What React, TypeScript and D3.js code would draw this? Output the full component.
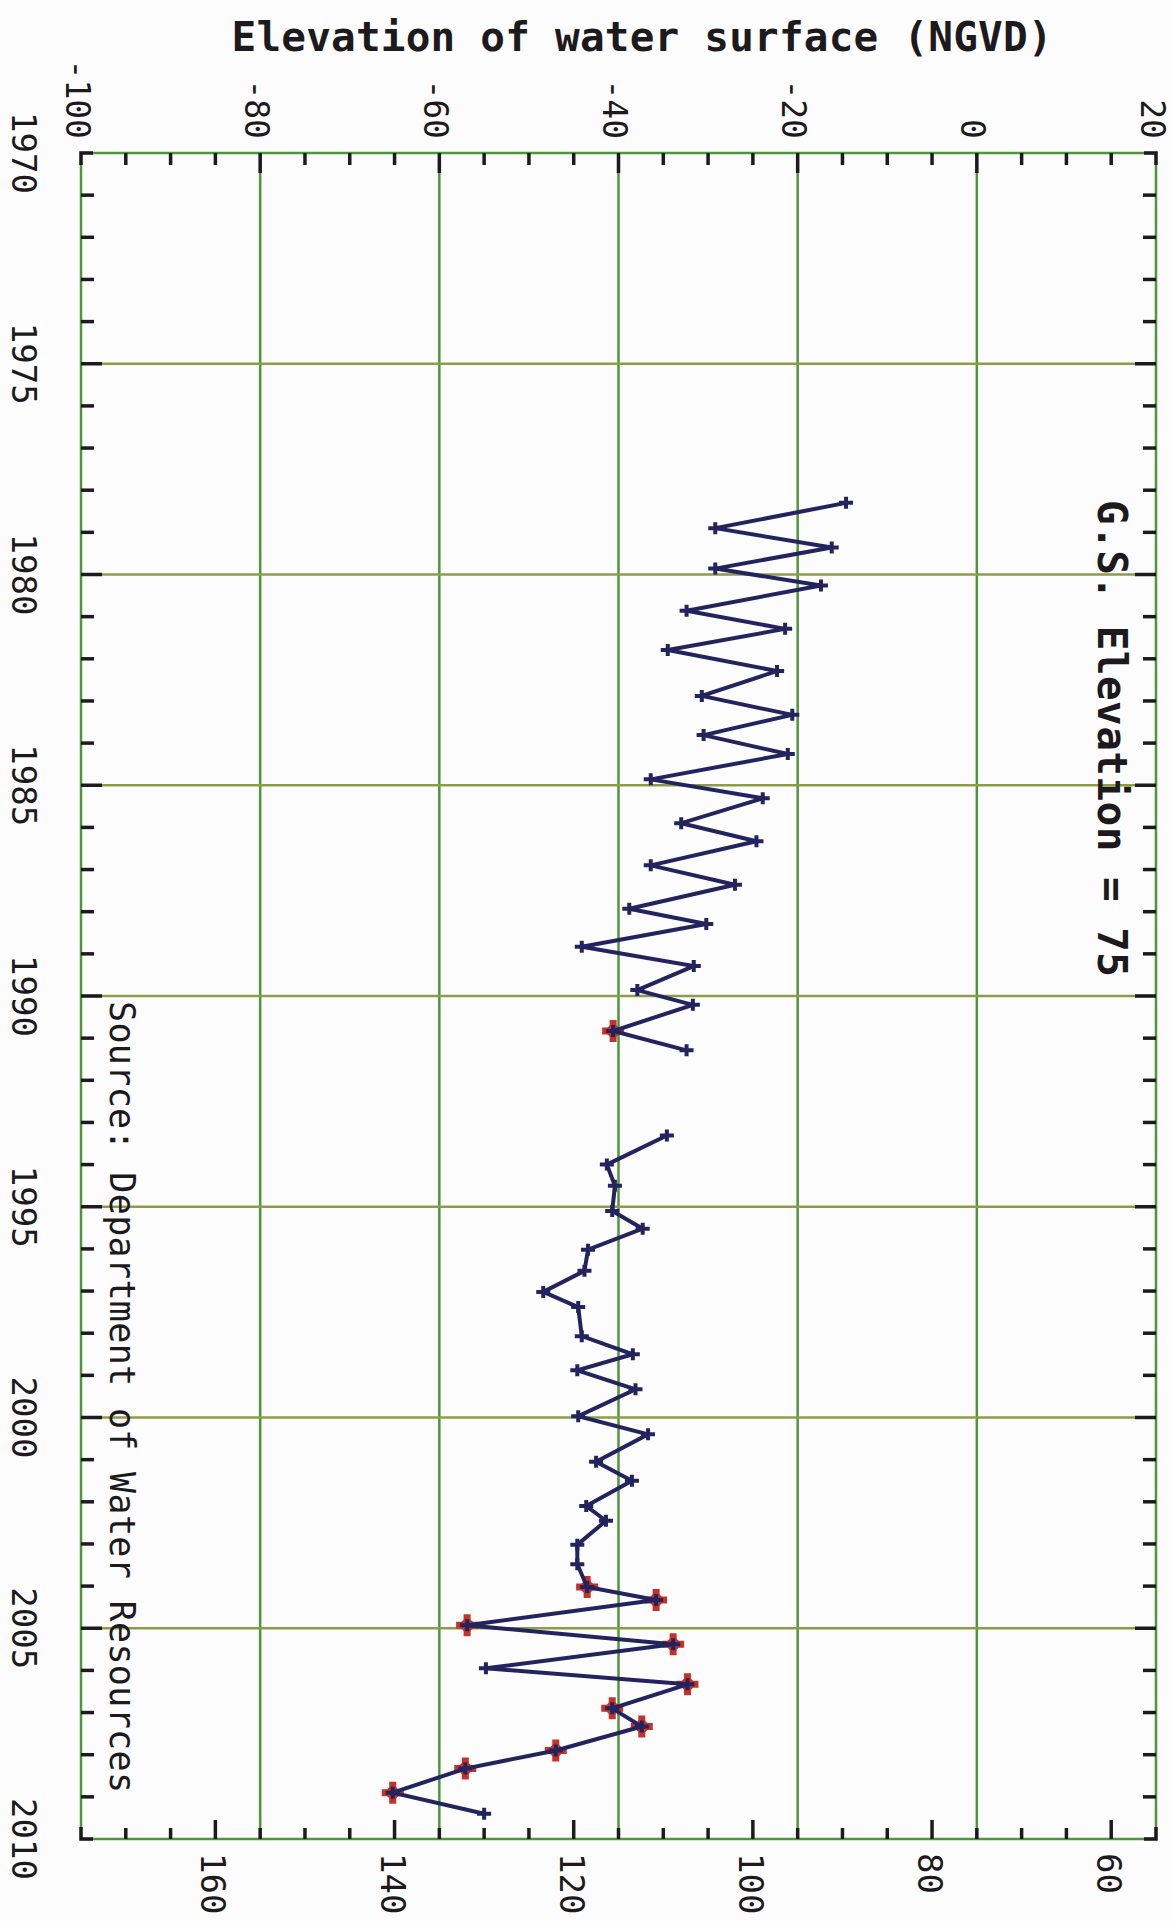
import * as d3 from 'd3'

const W = 1172, H = 1921
const PLOT = { left: 81, right: 1156, top: 153, bottom: 1839 }

// elevation of water surface (ft, NGVD) — top axis
const ELEV_TICKS = [-100, -80, -60, -40, -20, 0, 20]
// depth below ground surface (ft) — bottom axis, G.S. elevation = 75
const GS_ELEV = 75
const DEPTH_TICKS = [160, 140, 120, 100, 80, 60]
const YEAR_TICKS = [1970, 1975, 1980, 1985, 1990, 1995, 2000, 2005, 2010]

// 1978 – 1991 record
const EARLY_YEARS = [
  1978.3, 1978.9, 1979.36, 1979.86, 1980.26, 1980.86, 1981.29, 1981.79, 1982.29,
  1982.88, 1983.33, 1983.81, 1984.26, 1984.86, 1985.31, 1985.9, 1986.33, 1986.9,
  1987.36, 1987.93, 1988.29, 1988.83, 1989.29, 1989.86, 1990.21, 1990.83, 1991.29,
]
const EARLY_ELEV = [
  -14.6, -29.2, -16.2, -29.2, -17.4, -32.4, -21.4, -34.5, -22.3,
  -30.7, -20.6, -30.5, -21.1, -36.4, -23.9, -33.0, -24.6, -36.4,
  -27.0, -38.8, -30.2, -44.1, -31.6, -37.9, -31.7, -40.6, -32.4,
]
const EARLY_FLAG = [
  0, 0, 0, 0, 0, 0, 0, 0, 0,
  0, 0, 0, 0, 0, 0, 0, 0, 0,
  0, 0, 0, 0, 0, 0, 0, 1, 0,
]

// 1993 – 2009 record
const LATE_YEARS = [
  1993.31, 1994.0, 1994.5, 1995.1, 1995.52, 1996.02, 1996.52, 1997.02, 1997.38,
  1998.07, 1998.5, 1998.88, 1999.33, 1999.97, 2000.4, 2001.05, 2001.5, 2002.1,
  2002.45, 2003.02, 2003.48, 2004.02, 2004.33, 2004.93, 2005.38, 2005.95, 2006.33,
  2006.9, 2007.33, 2007.9, 2008.33, 2008.9, 2009.4,
]
const LATE_ELEV = [
  -34.6, -41.3, -40.4, -40.7, -37.3, -43.4, -43.8, -48.4, -44.5,
  -44.1, -38.4, -44.6, -38.1, -44.5, -36.7, -42.5, -38.5, -43.6,
  -41.4, -44.6, -44.6, -43.5, -35.8, -56.9, -33.9, -54.8, -32.3,
  -40.7, -37.4, -47.0, -57.1, -65.2, -55.0,
]
const LATE_FLAG = [
  0, 0, 0, 0, 0, 0, 0, 0, 0,
  0, 0, 0, 0, 0, 0, 0, 0, 0,
  0, 0, 0, 1, 1, 1, 1, 0, 1,
  1, 1, 1, 1, 1, 0,
]

const FONT = '"DejaVu Sans Mono", "Liberation Mono", monospace'
const GRID_V = '#4f963a'
const GRID_H = '#8e9c48'
const INK = '#1c1a1c'
const LINE = '#23245e'
const RED = '#c4322a'

type Pt = { year: number; elev: number; red: boolean }

const toPts = (ys: number[], es: number[], fs: number[]): Pt[] =>
  ys.map((y, i) => ({ year: y, elev: es[i], red: fs[i] === 1 }))

export default function App() {
  const x = d3.scaleLinear().domain([-100, 20]).range([PLOT.left, PLOT.right])
  const xd = d3.scaleLinear().domain([GS_ELEV + 100, GS_ELEV - 20]).range([PLOT.left, PLOT.right])
  const y = d3.scaleLinear().domain([1970, 2010]).range([PLOT.top, PLOT.bottom])

  const segments = [toPts(EARLY_YEARS, EARLY_ELEV, EARLY_FLAG), toPts(LATE_YEARS, LATE_ELEV, LATE_FLAG)]
  const line = d3.line<Pt>().x(d => x(d.elev)).y(d => y(d.year))

  const elevMinor = d3.range(-95, 20, 5)
  const depthMinor = d3.range(170, 55, -5)
  const yearMinor = d3.range(1971, 2010, 1)

  const rot = (px: number, py: number) => `rotate(90, ${px}, ${py})`

  return (
    <svg width={W} height={H} viewBox={`0 0 ${W} ${H}`}
      style={{ position: 'absolute', left: 0, top: 0, display: 'block', background: '#fdfcfd' }}>
      <rect x={0} y={0} width={W} height={H} fill="#fdfcfd" />

      {/* title */}
      <text x={642} y={51} textAnchor="middle" fontFamily={FONT} fontWeight="bold" fontSize={41}
        textLength={821} lengthAdjust="spacing" fill={INK}>
        Elevation of water surface (NGVD)
      </text>

      {/* grid */}
      {ELEV_TICKS.slice(1, -1).map(v => (
        <line key={`gv${v}`} x1={x(v)} x2={x(v)} y1={PLOT.top} y2={PLOT.bottom} stroke={GRID_V} strokeWidth={2.5} />
      ))}
      {YEAR_TICKS.slice(1, -1).map(v => (
        <line key={`gh${v}`} x1={PLOT.left} x2={PLOT.right} y1={y(v)} y2={y(v)} stroke={GRID_H} strokeWidth={2.5} />
      ))}
      <rect x={PLOT.left} y={PLOT.top} width={PLOT.right - PLOT.left} height={PLOT.bottom - PLOT.top}
        fill="none" stroke={GRID_V} strokeWidth={2.5} />

      {/* top ticks (elevation) */}
      {elevMinor.map(v => {
        const major = v % 20 === 0
        return <line key={`te${v}`} x1={x(v)} x2={x(v)} y1={PLOT.top} y2={PLOT.top + (major ? 20 : 12)}
          stroke={INK} strokeWidth={3.5} />
      })}
      {/* bottom ticks (depth) */}
      {depthMinor.map(v => {
        const major = v % 20 === 0
        return <line key={`td${v}`} x1={xd(v)} x2={xd(v)} y1={PLOT.bottom} y2={PLOT.bottom - (major ? 19 : 11)}
          stroke={INK} strokeWidth={3.5} />
      })}
      {/* left / right ticks (years) */}
      {yearMinor.map(v => {
        const len = v % 5 === 0 ? 21 : 13
        return (
          <g key={`ty${v}`}>
            <line x1={PLOT.left} x2={PLOT.left + len} y1={y(v)} y2={y(v)} stroke={INK} strokeWidth={3.5} />
            <line x1={PLOT.right} x2={PLOT.right - len} y1={y(v)} y2={y(v)} stroke={INK} strokeWidth={3.5} />
          </g>
        )
      })}
      {/* corner marks */}
      <path d={`M${PLOT.left},${PLOT.top + 12}V${PLOT.top}H${PLOT.left + 12}`} fill="none" stroke={INK} strokeWidth={3.5} />
      <path d={`M${PLOT.right - 12},${PLOT.top}H${PLOT.right}V${PLOT.top + 12}`} fill="none" stroke={INK} strokeWidth={3.5} />
      <path d={`M${PLOT.left},${PLOT.bottom - 12}V${PLOT.bottom}H${PLOT.left + 12}`} fill="none" stroke={INK} strokeWidth={3.5} />
      <path d={`M${PLOT.right - 12},${PLOT.bottom}H${PLOT.right}V${PLOT.bottom - 12}`} fill="none" stroke={INK} strokeWidth={3.5} />

      {/* top labels */}
      {ELEV_TICKS.map(v => (
        <text key={`le${v}`} x={x(v) - 4} y={139} transform={rot(x(v) - 4, 139)} textAnchor="end"
          dominantBaseline="central" fontFamily={FONT} fontSize={33} fill={INK}>{v}</text>
      ))}
      {/* bottom labels */}
      {DEPTH_TICKS.map(v => (
        <text key={`ld${v}`} x={xd(v) - 2} y={1853} transform={rot(xd(v) - 2, 1853)} textAnchor="start"
          dominantBaseline="central" fontFamily={FONT} fontSize={34} fill={INK}>{v}</text>
      ))}
      {/* year labels */}
      {YEAR_TICKS.map(v => (
        <text key={`ly${v}`} x={24} y={y(v)} transform={rot(24, y(v))} textAnchor="middle"
          dominantBaseline="central" fontFamily={FONT} fontSize={34} fill={INK}>{v}</text>
      ))}

      {/* annotations */}
      <text x={1112} y={500} transform={rot(1112, 500)} textAnchor="start" dominantBaseline="central"
        fontFamily={FONT} fontWeight="bold" fontSize={41} textLength={477} lengthAdjust="spacing" fill={INK}>
        G.S. Elevation = 75
      </text>
      <text x={122} y={1001} transform={rot(122, 1001)} textAnchor="start" dominantBaseline="central"
        fontFamily={FONT} fontSize={35} textLength={792} lengthAdjust="spacing" fill={INK}>
        Source: Department of Water Resources
      </text>

      {/* red markers */}
      {segments.flat().filter(d => d.red).map((d, i) => {
        const cx = x(d.elev), cy = y(d.year)
        return (
          <g key={`r${i}`} transform={`translate(${cx},${cy})`}>
            <path d="M-11,0H11M0,-11V11" stroke={RED} strokeWidth={7} />
            <path d="M-9,0L0,-9L9,0L0,9Z" fill={RED} />
          </g>
        )
      })}

      {/* series */}
      {segments.map((seg, i) => (
        <path key={`s${i}`} d={line(seg) ?? ''} fill="none" stroke={LINE} strokeWidth={4} strokeLinejoin="miter" />
      ))}
      {segments.flat().map((d, i) => {
        const cx = x(d.elev), cy = y(d.year)
        return <path key={`b${i}`} d={`M${cx - 7},${cy}H${cx + 7}M${cx},${cy - 6}V${cy + 6}`}
          stroke={LINE} strokeWidth={4} />
      })}
    </svg>
  )
}
